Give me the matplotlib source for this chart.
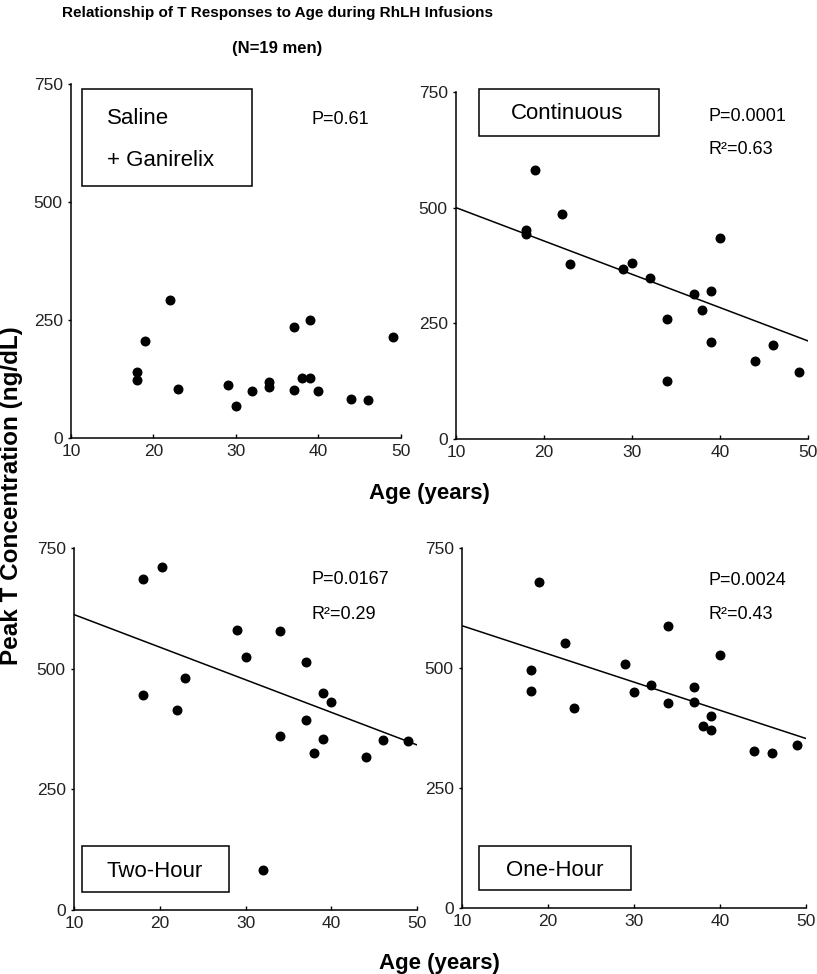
import matplotlib
matplotlib.use("Agg")
from matplotlib import pyplot as plt
from matplotlib.patches import Rectangle

plt.rcParams["font.family"] = ["Liberation Sans", "DejaVu Sans"]

# ages (years) and peak T (ng/dL)
saline_age = [18, 18, 19, 22, 23, 29, 30, 32, 34, 34, 37, 37, 38, 39, 39, 40, 44, 46, 49]
saline_t = [140, 123, 205, 293, 104, 113, 67, 99, 119, 109, 236, 102, 127, 250, 127, 99, 83, 81, 215]

cont_age = [19, 18, 18, 22, 23, 29, 30, 32, 34, 34, 37, 38, 39, 39, 40, 44, 46, 49]
cont_t = [581, 452, 444, 487, 379, 367, 380, 347, 260, 126, 314, 279, 320, 210, 434, 169, 203, 144]

two_age = [18, 18, 20.3, 22, 23, 29, 30, 32, 34, 34, 37, 37, 38, 39, 39, 40, 44, 46, 49]
two_t = [686, 445, 711, 414, 480, 580, 525, 82, 579, 361, 514, 393, 326, 449, 355, 431, 316, 353, 350]

one_age = [19, 18, 18, 22, 23, 29, 30, 32, 34, 34, 37, 37, 38, 39, 39, 40, 44, 46, 49]
one_t = [679, 495, 453, 552, 416, 509, 449, 465, 587, 426, 461, 430, 379, 400, 371, 526, 328, 322, 340]

# fitted lines: value at age 10 and age 50
cont_fit = [500, 212]
two_fit = [612, 342]
one_fit = [588, 353]
fit_x = [10, 50]

fig = plt.figure(figsize=(8.17, 9.74), dpi=100)


def make_panel(rect, ages, vals, fit, box, label, label_xy, p_text, r2_text, p_xy):
    ax = fig.add_axes(rect)
    ax.scatter(ages, vals, s=38, color="black", zorder=3, clip_on=False)
    if fit is not None:
        ax.plot(fit_x, fit, color="black", lw=1.1)
    ax.set_xlim(10, 50)
    ax.set_ylim(0, 750)
    ax.set_xticks([10, 20, 30, 40, 50])
    ax.set_yticks([0, 250, 500, 750])
    ax.spines["top"].set_visible(False)
    ax.spines["right"].set_visible(False)
    for s in ("left", "bottom"):
        ax.spines[s].set_linewidth(1.1)
    ax.tick_params(axis="y", direction="out", length=2.5, width=1, pad=3.5,
                   labelsize=12.5, colors="black")
    ax.tick_params(axis="x", direction="in", length=3, width=1, pad=4,
                   labelsize=12.5, colors="black")
    for lbl in ax.get_xticklabels() + ax.get_yticklabels():
        lbl.set_color("#222222")

    # label box
    x0, y0, x1, y1 = box
    ax.add_patch(Rectangle((x0, y0), x1 - x0, y1 - y0, fill=False,
                           edgecolor="black", lw=1.1, clip_on=False, zorder=4))
    if isinstance(label, tuple):
        ax.text(label_xy[0], label_xy[1][0], label[0], fontsize=16,
                ha="left", va="center")
        ax.text(label_xy[0], label_xy[1][1], label[1], fontsize=16,
                ha="left", va="center")
    else:
        ax.text(label_xy[0], label_xy[1], label, fontsize=16,
                ha="center", va="center")

    ax.text(p_xy[0], p_xy[1], p_text, fontsize=13, ha="left", va="center")
    if r2_text:
        ax.text(p_xy[0], p_xy[2], r2_text, fontsize=13, ha="left", va="center")
    return ax


make_panel([0.0869, 0.5503, 0.4039, 0.3634], saline_age, saline_t, None,
           (11.3, 534, 31.9, 739), ("Saline", "+ Ganirelix"), (14.4, (678, 587)),
           "P=0.61", None, (39.2, 674))
make_panel([0.5581, 0.5493, 0.4308, 0.3563], cont_age, cont_t, cont_fit,
           (12.6, 655, 33.1, 756), "Continuous", (22.6, 703),
           "P=0.0001", "R²=0.63", (38.75, 698, 625))
make_panel([0.0906, 0.0657, 0.4198, 0.3717], two_age, two_t, two_fit,
           (10.9, 37, 28.1, 133), "Two-Hour", (19.4, 80),
           "P=0.0167", "R²=0.29", (37.75, 684, 613))
make_panel([0.5655, 0.0678, 0.4211, 0.3696], one_age, one_t, one_fit,
           (12.0, 37, 29.65, 129), "One-Hour", (20.8, 78),
           "P=0.0024", "R²=0.43", (38.7, 683, 612))

fig.text(277 / 817, 1 - 13 / 974, "Relationship of T Responses to Age during RhLH Infusions",
         fontsize=11, fontweight="bold", ha="center", va="center")
fig.text(277 / 817, 1 - 48 / 974, "(N=19 men)",
         fontsize=12, fontweight="bold", ha="center", va="center")

fig.text(429 / 817, 1 - 494 / 974, "Age (years)", fontsize=16, fontweight="bold",
         ha="center", va="center")
fig.text(439 / 817, 1 - 963 / 974, "Age (years)", fontsize=16, fontweight="bold",
         ha="center", va="center")
fig.text(12 / 817, 1 - 496 / 974, "Peak T Concentration (ng/dL)", fontsize=17.5,
         fontweight="bold", rotation=90, ha="center", va="center")

fig.savefig("out.png", dpi=100)
